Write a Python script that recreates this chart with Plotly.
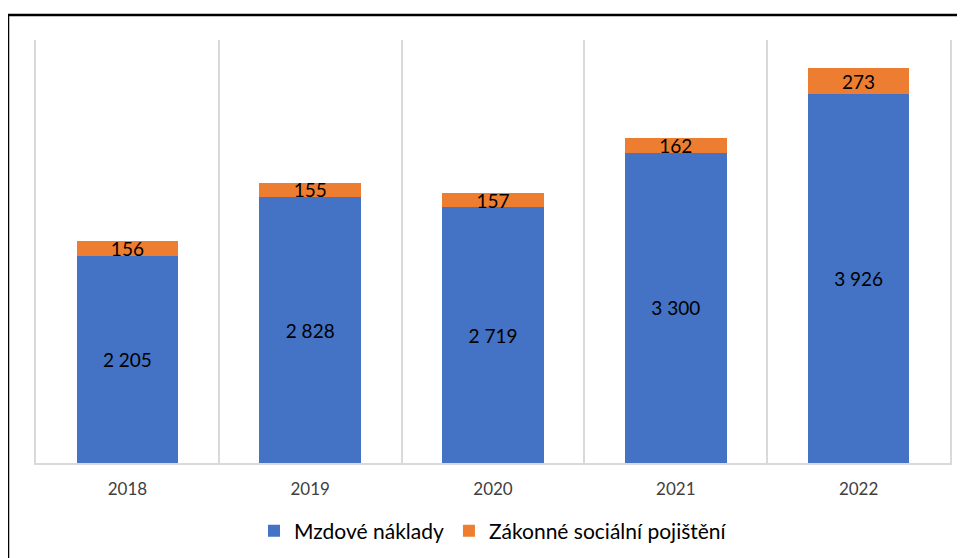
import plotly.graph_objects as go

years = ["2018", "2019", "2020", "2021", "2022"]
mzdove = [2205, 2828, 2719, 3300, 3926]
pojisteni = [156, 155, 157, 162, 273]

# page body has an 8px margin; work in window pixels and shift
OFF = 8
W, H = 965 - OFF, 558 - OFF
# plot area in window pixels
PX0, PX1, PY0, PY1 = 36, 950, 40, 463
L, R, T, B = PX0 - OFF, W - (PX1 - OFF), PY0 - OFF, H - (PY1 - OFF)
pw, ph = PX1 - PX0, PY1 - PY0

def px_x(p):
    return (p - PX0) / pw

def px_y(p):
    return (PY1 - p) / ph

xs = list(range(len(years)))
FONT = "Lato"

fig = go.Figure()
fig.add_trace(go.Bar(
    x=xs, y=mzdove, name="Mzdové náklady",
    marker=dict(color="#4472C4", line=dict(width=0)),
    width=0.555,
    texttemplate="%{y:,}", textposition="inside", insidetextanchor="middle",
    textfont=dict(size=19, color="#000000", family=FONT),
))
fig.add_trace(go.Bar(
    x=xs, y=pojisteni, name="Zákonné sociální pojištění",
    marker=dict(color="#ED7D31", line=dict(width=0)),
    width=0.555,
    texttemplate="%{y:,}", textposition="inside", insidetextanchor="middle",
    textfont=dict(size=19, color="#000000", family=FONT),
))

fig.update_layout(
    barmode="stack",
    width=W, height=H,
    margin=dict(l=L, r=R, t=T, b=B, autoexpand=False),
    paper_bgcolor="white", plot_bgcolor="white",
    separators=". ",
    uniformtext=dict(minsize=19, mode="show"),
    font=dict(family=FONT, color="#404040"),
    showlegend=True,
    legend=dict(orientation="h", x=0.5, xanchor="center", y=px_y(531), yanchor="middle",
                font=dict(size=21, color="#000000", family=FONT), traceorder="normal",
                itemwidth=30),
    xaxis=dict(
        range=[-0.5, len(years) - 0.5],
        tickmode="array", tickvals=xs, ticktext=years,
        tickfont=dict(size=17, color="#404040"),
        ticklabelstandoff=10,
        showgrid=False, zeroline=False,
        showline=True, linecolor="#D9D9D9", linewidth=1.5,
        ticks="", ticklen=0,
        minor=dict(tickmode="array", tickvals=[i + 0.5 for i in range(len(years) - 1)],
                   showgrid=True, gridcolor="#D9D9D9", gridwidth=1.5, ticks=""),
    ),
    yaxis=dict(range=[0, 4500], showticklabels=False, ticks="", showgrid=False, zeroline=False,
               showline=True, mirror=True, linecolor="#D9D9D9", linewidth=1.5),
    shapes=[dict(type="rect", xref="paper", yref="paper",
                 x0=px_x(8), x1=px_x(985), y0=px_y(15), y1=px_y(580),
                 line=dict(color="#000000", width=2.5), layer="above")],
)

fig.write_html("out.html")
